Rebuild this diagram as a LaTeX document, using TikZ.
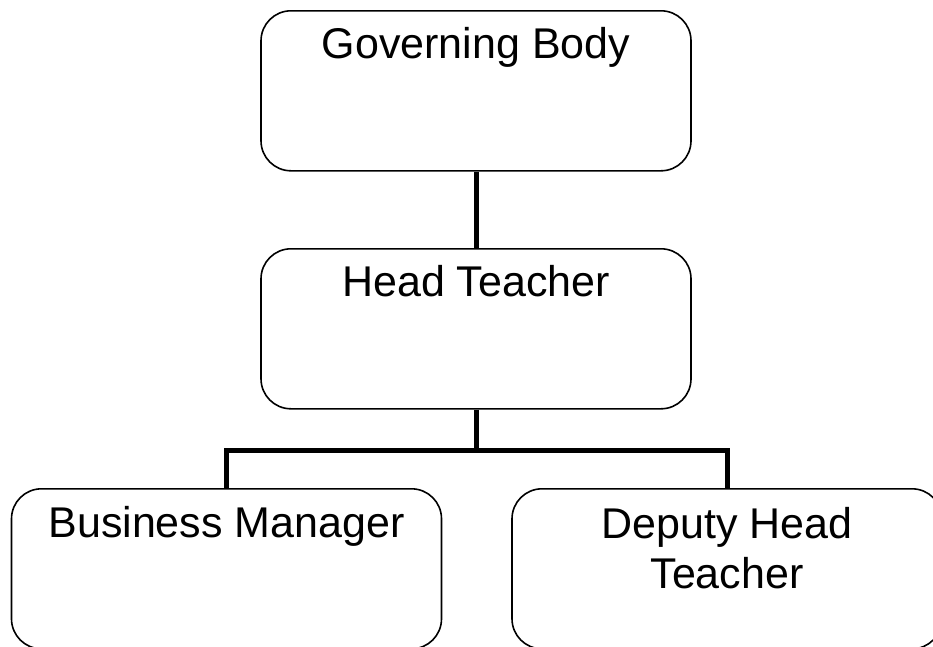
\documentclass[tikz,border=0pt]{standalone}
\usepackage{fontspec}
\setmainfont{Liberation Sans}
\begin{document}
\begin{tikzpicture}[x=1pt,y=1pt,
  box/.style={draw=black, line width=1.6pt, rounded corners=30pt, rectangle,
    minimum width=430pt, minimum height=160pt, inner sep=0pt, anchor=north},
  lbl/.style={anchor=base, align=center, inner sep=0pt,
    font=\fontsize{43}{50}\selectfont},
  conn/.style={draw=black, line width=5pt}]
\useasboundingbox (0,0) rectangle (933,-646);
\fill[white] (0,0) rectangle (933,-646);
\node[box] (gb) at (476,-10) {};
\node[box] (ht) at (476,-248) {};
\node[box] (bm) at (226.5,-488) {};
\node[box] (dh) at (727,-488) {};
\node[lbl] (gbt) at ([yshift=-48pt]gb.north) {Governing Body};
\node[lbl] (htt) at ([yshift=-48pt]ht.north) {Head Teacher};
\node[lbl] (bmt) at ([yshift=-49pt]bm.north) {Business Manager};
\node[lbl, anchor=north] (dht) at ([yshift=-19pt]dh.north) {Deputy Head\\Teacher};
\coordinate (j) at ([yshift=-41pt]ht.south);
\draw[conn] (gb.south) -- (ht.north);
\draw[conn] (ht.south) -- (j) -| (bm.north);
\draw[conn] (j) -| (dh.north);
\end{tikzpicture}
\end{document}
